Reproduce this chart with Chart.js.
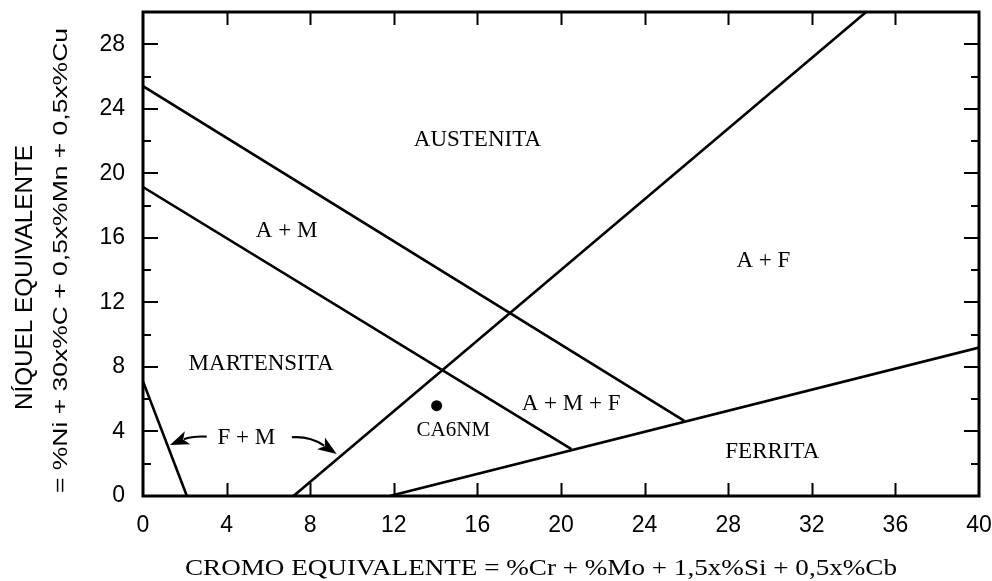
<!DOCTYPE html>
<html>
<head>
<meta charset="utf-8">
<script src="https://cdn.jsdelivr.net/npm/chart.js@4/dist/chart.umd.min.js"></script>
<style>
  html, body { margin: 0; padding: 0; background: #fff; }
  #wrap { width: 992px; height: 581px; }
</style>
</head>
<body>
<div id="wrap"><canvas id="c" width="992" height="581"></canvas></div>
<script>
// Phase boundaries: chromium equivalent (x) vs nickel equivalent (y)
const austeniteAmX = [0, 25.9];
const austeniteAmY = [25.4, 4.65];
const martensiteAmX = [0, 20.5];
const martensiteAmY = [19.15, 2.9];
const fmLeftX = [0, 2.1];
const fmLeftY = [7.1, 0];
const austeniteAfX = [7.2, 34.6];
const austeniteAfY = [0, 30];
const ferriteX = [11.8, 40];
const ferriteY = [0, 9.2];

// CA6NM steel composition
const alloyName = 'CA6NM';
const alloyX = [14.05];
const alloyY = [5.6];

// Axis ticks
const xTicks = [0, 4, 8, 12, 16, 20, 24, 28, 32, 36, 40];
const yTicks = [0, 4, 8, 12, 16, 20, 24, 28];
const yMinorTicks = [2, 6, 10, 14, 18, 22, 26];

// Phase field names
const regionNames = ['AUSTENITA', 'A + M', 'A + F', 'MARTENSITA', 'A + M + F', 'FERRITA', 'F + M'];

// Texts
const xTitle = 'CROMO EQUIVALENTE = %Cr + %Mo + 1,5x%Si + 0,5x%Cb';
const yTitle1 = 'NÍQUEL EQUIVALENTE';
const yTitle2 = '= %Ni + 30x%C + 0,5x%Mn + 0,5x%Cu';

// Where each field name sits (data units, text centre)
const regionLabelAt = [[16.0, 22.13], [6.87, 16.49], [29.68, 14.67], [5.65, 8.26], [20.48, 5.78], [30.11, 2.79], [4.94, 3.68]];
const alloyLabelAt = [14.85, 4.13];
// Curved arrows from the "F + M" label to its two narrow fields
const fmArrows = [
  { from: [3.05, 3.68], ctrl: [2.34, 3.72], to: [1.29, 3.16] },
  { from: [7.12, 3.64], ctrl: [7.99, 3.72], to: [9.27, 2.6] }
];

const toPoints = (xs, ys) => xs.map((x, i) => ({ x: x, y: ys[i] }));
const boundaries = [
  [austeniteAmX, austeniteAmY],
  [martensiteAmX, martensiteAmY],
  [fmLeftX, fmLeftY],
  [austeniteAfX, austeniteAfY],
  [ferriteX, ferriteY]
];

const datasets = boundaries.map(([xs, ys]) => ({
  data: toPoints(xs, ys),
  showLine: true,
  borderColor: '#000',
  borderWidth: 2.6,
  pointRadius: 0,
  fill: false
}));
datasets.push({
  label: alloyName,
  data: toPoints(alloyX, alloyY),
  showLine: false,
  pointRadius: 5.5,
  pointBackgroundColor: '#000',
  pointBorderColor: '#000',
  pointBorderWidth: 0
});

function drawFitted(ctx, text, font, x, y, rotate, length) {
  ctx.save();
  ctx.font = font;
  ctx.translate(x, y);
  if (rotate) ctx.rotate(-Math.PI / 2);
  const w = ctx.measureText(text).width;
  ctx.scale(length / w, 1);
  ctx.textAlign = 'left';
  ctx.textBaseline = 'alphabetic';
  ctx.fillStyle = '#000';
  ctx.fillText(text, 0, 0);
  ctx.restore();
}

const decorations = {
  id: 'decorations',
  afterDatasetsDraw(chart) {
    const ctx = chart.ctx;
    const xs = chart.scales.x, ys = chart.scales.y;
    const a = chart.chartArea;
    const px = v => xs.getPixelForValue(v);
    const py = v => ys.getPixelForValue(v);

    ctx.save();
    ctx.strokeStyle = '#000';
    ctx.fillStyle = '#000';

    // inward tick marks
    ctx.lineWidth = 2;
    ctx.beginPath();
    xTicks.slice(1, -1).forEach(v => {
      const x = Math.round(px(v)) + 0.5;
      ctx.moveTo(x, a.bottom); ctx.lineTo(x, a.bottom - 13);
      ctx.moveTo(x, a.top); ctx.lineTo(x, a.top + 13);
    });
    yTicks.slice(1).forEach(v => {
      const y = Math.round(py(v));
      ctx.moveTo(a.left, y); ctx.lineTo(a.left + 15, y);
      ctx.moveTo(a.right, y); ctx.lineTo(a.right - 15, y);
    });
    yMinorTicks.forEach(v => {
      const y = Math.round(py(v));
      ctx.moveTo(a.left, y); ctx.lineTo(a.left + 8, y);
      ctx.moveTo(a.right, y); ctx.lineTo(a.right - 8, y);
    });
    ctx.stroke();

    // frame
    ctx.lineWidth = 3;
    ctx.strokeRect(a.left, a.top, a.right - a.left, a.bottom - a.top);

    // field names
    ctx.font = '23px "Liberation Serif", "Times New Roman", serif';
    ctx.textAlign = 'center';
    ctx.textBaseline = 'alphabetic';
    regionNames.forEach((name, i) => {
      const [lx, ly] = regionLabelAt[i];
      ctx.fillText(name, px(lx), py(ly) + 7.5);
    });
    ctx.font = '21px "Liberation Serif", "Times New Roman", serif';
    ctx.fillText(alloyName, px(alloyLabelAt[0]), py(alloyLabelAt[1]) + 7);

    // arrows
    fmArrows.forEach(ar => {
      const f = [px(ar.from[0]), py(ar.from[1])];
      const c = [px(ar.ctrl[0]), py(ar.ctrl[1])];
      const t = [px(ar.to[0]), py(ar.to[1])];
      const ang = Math.atan2(t[1] - c[1], t[0] - c[0]);
      const headLen = 19, halfW = 7;
      const bx = t[0] - Math.cos(ang) * headLen * 0.8;
      const by = t[1] - Math.sin(ang) * headLen * 0.8;
      ctx.lineWidth = 2.2;
      ctx.beginPath();
      ctx.moveTo(f[0], f[1]);
      ctx.quadraticCurveTo(c[0], c[1], bx, by);
      ctx.stroke();
      const backX = t[0] - Math.cos(ang) * headLen;
      const backY = t[1] - Math.sin(ang) * headLen;
      const nx = -Math.sin(ang), ny = Math.cos(ang);
      ctx.beginPath();
      ctx.moveTo(t[0], t[1]);
      ctx.lineTo(backX + nx * halfW, backY + ny * halfW);
      ctx.lineTo(t[0] - Math.cos(ang) * headLen * 0.75, t[1] - Math.sin(ang) * headLen * 0.75);
      ctx.lineTo(backX - nx * halfW, backY - ny * halfW);
      ctx.closePath();
      ctx.fill();
    });
    ctx.restore();

    // axis titles
    drawFitted(ctx, xTitle, '23px "Liberation Serif", "Times New Roman", serif', 185, 575, false, 712);
    drawFitted(ctx, yTitle1, '24px "Liberation Sans", Arial, sans-serif', 32, 410, true, 265);
    drawFitted(ctx, yTitle2, '21px "Liberation Sans", Arial, sans-serif', 66.5, 493, true, 465);
  }
};

new Chart(document.getElementById('c'), {
  type: 'scatter',
  data: { datasets: datasets },
  options: {
    responsive: false,
    animation: false,
    devicePixelRatio: 1,
    layout: { padding: { top: 12, right: 13, left: 0, bottom: 0 } },
    plugins: { legend: { display: false }, tooltip: { enabled: false } },
    scales: {
      x: {
        type: 'linear', min: 0, max: 40,
        grid: { display: false }, border: { display: false },
        afterBuildTicks: s => { s.ticks = xTicks.map(v => ({ value: v })); },
        afterFit: s => { s.height = 85; s.paddingLeft = 0; s.paddingRight = 0; },
        ticks: { autoSkip: false, maxRotation: 0, padding: 8, color: '#000',
                 font: { family: '"Liberation Sans", Arial, sans-serif', size: 23 } }
      },
      y: {
        type: 'linear', min: 0, max: 30,
        grid: { display: false }, border: { display: false },
        afterBuildTicks: s => { s.ticks = yTicks.map(v => ({ value: v })); },
        afterFit: s => { s.width = 143; s.paddingTop = 0; s.paddingBottom = 0; },
        ticks: { autoSkip: false, padding: 10, color: '#000',
                 font: { family: '"Liberation Sans", Arial, sans-serif', size: 23 } }
      }
    }
  },
  plugins: [decorations]
});
</script>
</body>
</html>
